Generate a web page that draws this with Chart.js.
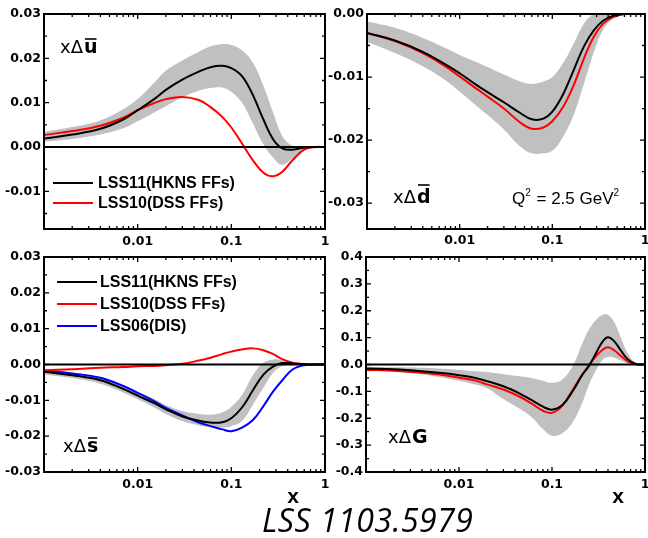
<!DOCTYPE html>
<html>
<head>
<meta charset="utf-8">
<script src="https://cdn.jsdelivr.net/npm/chart.js@4.4.1/dist/chart.umd.min.js"></script>
<style>
  body { margin: 0; background: #fff; width: 648px; height: 538px; position: relative; overflow: hidden; }
  canvas { position: absolute; }
  #caption { position: absolute; left: 262px; top: 503px; font: italic 32px "Open Sans", sans-serif; line-height: 34px; color: #000; white-space: nowrap; letter-spacing: 0.5px; }
</style>
</head>
<body>
<canvas id="chartU" width="330" height="252" style="left:0;top:0"></canvas>
<canvas id="chartD" width="328" height="252" style="left:320px;top:0"></canvas>
<canvas id="chartS" width="330" height="270" style="left:0;top:240px"></canvas>
<canvas id="chartG" width="328" height="270" style="left:320px;top:240px"></canvas>
<div id="caption">LSS 1103.5979</div>
<script>
// x grid shared by the three sea-quark panels
const xGrid = [0.001, 0.002, 0.004, 0.007, 0.01, 0.015, 0.02, 0.03, 0.045, 0.06, 0.08, 0.1, 0.13, 0.17, 0.22, 0.28, 0.35, 0.45, 0.6, 0.8, 1];
const xGridG = [0.001, 0.002, 0.004, 0.007, 0.01, 0.015, 0.02, 0.03, 0.045, 0.06, 0.08, 0.1, 0.13, 0.17, 0.21, 0.25, 0.3, 0.35, 0.4, 0.47, 0.55, 0.65, 0.8, 1];
const xTickValues = [0.01, 0.1, 1];

// x * delta u-bar
const uLss11 = [0.0019, 0.0028, 0.0041, 0.0062, 0.0083, 0.0108, 0.0129, 0.0152, 0.0170, 0.0180, 0.0183, 0.0178, 0.0160, 0.0117, 0.0062, 0.0017, -0.0003, -0.0006, -0.0001, 0, 0];
const uLss10 = [0.0027, 0.0036, 0.0048, 0.0066, 0.0083, 0.0099, 0.0108, 0.0113, 0.0106, 0.0090, 0.0068, 0.0044, 0.0008, -0.0030, -0.0058, -0.0066, -0.0056, -0.0030, -0.0006, 0, 0];
const uBandHi = [0.0034, 0.0045, 0.0060, 0.0085, 0.0108, 0.0145, 0.0172, 0.0195, 0.0215, 0.0227, 0.0232, 0.0230, 0.0218, 0.0190, 0.0138, 0.0077, 0.0025, 0.0003, 0, 0, 0];
const uBandLo = [0.0012, 0.0018, 0.0028, 0.0042, 0.0058, 0.0078, 0.0092, 0.0112, 0.0127, 0.0133, 0.0134, 0.0124, 0.0100, 0.0053, 0.0006, -0.0024, -0.0040, -0.0026, -0.0005, 0, 0];

// x * delta d-bar
const dLss11 = [-0.0030, -0.0042, -0.0060, -0.0080, -0.0094, -0.0112, -0.0124, -0.0140, -0.0157, -0.0167, -0.0166, -0.0155, -0.0128, -0.0089, -0.0051, -0.0026, -0.0011, -0.0003, 0, 0, 0];
const dLss10 = [-0.0030, -0.0043, -0.0062, -0.0083, -0.0099, -0.0118, -0.0131, -0.0150, -0.0172, -0.0182, -0.0180, -0.0170, -0.0148, -0.0113, -0.0070, -0.0036, -0.0016, -0.0005, 0, 0, 0];
const dBandHi = [-0.0012, -0.0022, -0.0038, -0.0054, -0.0065, -0.0076, -0.0084, -0.0096, -0.0107, -0.0111, -0.0107, -0.0100, -0.0078, -0.0047, -0.0015, 0, 0, 0, 0, 0, 0];
const dBandLo = [-0.0044, -0.0062, -0.0083, -0.0105, -0.0123, -0.0145, -0.0160, -0.0183, -0.0210, -0.0221, -0.0221, -0.0217, -0.0195, -0.0160, -0.0110, -0.0061, -0.0026, -0.0008, -0.0001, 0, 0];

// x * delta s-bar
const sLss11 = [-0.0020, -0.0030, -0.0044, -0.0068, -0.0087, -0.0108, -0.0125, -0.0145, -0.0157, -0.0162, -0.0161, -0.0150, -0.0120, -0.0072, -0.0028, -0.0005, 0.0004, 0.0003, 0.0001, 0, 0];
const sLss10 = [-0.0016, -0.0013, -0.0009, -0.0007, -0.0005, -0.0004, -0.0002, 0.0002, 0.0011, 0.0019, 0.0029, 0.0036, 0.0042, 0.0045, 0.0040, 0.0029, 0.0015, 0.0005, 0.0001, 0, 0];
const sLss06 = [-0.0017, -0.0025, -0.0037, -0.0060, -0.0079, -0.0102, -0.0121, -0.0142, -0.0162, -0.0172, -0.0181, -0.0186, -0.0176, -0.0155, -0.0116, -0.0075, -0.0044, -0.0014, -0.0002, 0, 0];
const sBandHi = [-0.0013, -0.0022, -0.0036, -0.0058, -0.0076, -0.0096, -0.0113, -0.0130, -0.0138, -0.0140, -0.0134, -0.0118, -0.0085, -0.0030, 0.0005, 0.0014, 0.0012, 0.0005, 0.0001, 0, 0];
const sBandLo = [-0.0028, -0.0038, -0.0054, -0.0078, -0.0097, -0.0120, -0.0138, -0.0158, -0.0170, -0.0175, -0.0176, -0.0172, -0.0158, -0.0112, -0.0065, -0.0023, -0.0004, 0, 0, 0, 0];

// x * delta G
const gLss11 = [-0.015, -0.018, -0.025, -0.033, -0.040, -0.050, -0.062, -0.081, -0.108, -0.132, -0.157, -0.168, -0.150, -0.095, -0.040, -0.005, 0.045, 0.085, 0.101, 0.085, 0.052, 0.020, 0.002, 0];
const gLss10 = [-0.020, -0.023, -0.031, -0.040, -0.049, -0.060, -0.074, -0.093, -0.120, -0.145, -0.172, -0.180, -0.152, -0.090, -0.040, -0.002, 0.032, 0.055, 0.064, 0.052, 0.032, 0.012, 0.001, 0];
const gBandHi = [-0.008, -0.010, -0.012, -0.016, -0.020, -0.025, -0.028, -0.036, -0.044, -0.050, -0.060, -0.068, -0.055, 0.000, 0.075, 0.130, 0.167, 0.185, 0.185, 0.155, 0.100, 0.043, 0.005, 0];
const gBandLo = [-0.025, -0.028, -0.037, -0.050, -0.060, -0.074, -0.088, -0.128, -0.165, -0.195, -0.240, -0.265, -0.255, -0.210, -0.145, -0.075, -0.019, 0.018, 0.028, 0.025, 0.015, 0.004, 0, 0];

const yTicksU = [0.03, 0.02, 0.01, 0, -0.01];
const yTicksD = [0, -0.01, -0.02, -0.03];
const yTicksS = [0.03, 0.02, 0.01, 0, -0.01, -0.02, -0.03];
const yTicksG = [0.4, 0.3, 0.2, 0.1, 0, -0.1, -0.2, -0.3, -0.4];

const BAND = "#c0c0c0";
const TICK_FONT = { family: "DejaVu Sans", size: 12.5, weight: "bold" };

function pts(xs, ys) {
  return xs.map((x, i) => ({ x, y: ys[i] }));
}

function curve(label, xs, ys, color) {
  return {
    label, data: pts(xs, ys), borderColor: color, borderWidth: 2, pointRadius: 0,
    fill: false, tension: 0.4, order: 0, inLegend: true
  };
}

function band(xs, hi, lo) {
  const common = { borderColor: "rgba(0,0,0,0)", borderWidth: 0, pointRadius: 0, tension: 0.4, order: 5 };
  return [
    { ...common, label: "hi", data: pts(xs, hi), fill: false },
    { ...common, label: "lo", data: pts(xs, lo), fill: "-1", backgroundColor: BAND }
  ];
}

function drawPanelLabel(ctx, lab) {
  ctx.fillStyle = "#000";
  ctx.textAlign = "left";
  ctx.textBaseline = "alphabetic";
  let x = lab.x;
  ctx.font = '18px "DejaVu Sans"';
  ctx.fillText("x", x, lab.y);
  x += ctx.measureText("x").width;
  ctx.fillText("\u0394", x, lab.y);
  x += ctx.measureText("\u0394").width + 1;
  ctx.font = 'bold 19px "DejaVu Sans"';
  ctx.fillText(lab.letter, x, lab.y);
  if (lab.bar) {
    const m = ctx.measureText(lab.letter);
    const top = lab.y - m.actualBoundingBoxAscent - 3;
    ctx.strokeStyle = "#000";
    ctx.lineWidth = 1.6;
    ctx.beginPath();
    ctx.moveTo(x + 1, top);
    ctx.lineTo(x + m.width - 1, top);
    ctx.stroke();
  }
}

function drawNote(ctx, note) {
  ctx.fillStyle = "#000";
  ctx.textAlign = "left";
  ctx.textBaseline = "alphabetic";
  let x = note.x;
  const parts = [["Q", false], ["2", true], [" = 2.5 GeV", false], ["2", true]];
  parts.forEach(([t, sup]) => {
    ctx.font = sup ? '10px "Liberation Sans"' : '17px "Liberation Sans"';
    ctx.fillText(t, x, sup ? note.y - 8 : note.y);
    x += ctx.measureText(t).width + (sup ? 1 : 0);
  });
}

const framePlugin = {
  id: "frame",
  afterDatasetsDraw(chart, args, opts) {
    const { ctx, chartArea: a, scales } = chart;
    const sx = scales.x;
    const sy = scales.y;
    ctx.save();

    // zero line
    const y0 = sy.getPixelForValue(0);
    ctx.strokeStyle = "#000";
    ctx.lineWidth = 2.2;
    ctx.beginPath();
    ctx.moveTo(a.left, y0);
    ctx.lineTo(a.right, y0);
    ctx.stroke();

    // inward ticks, log x
    ctx.lineWidth = 1.3;
    ctx.beginPath();
    [0.001, 0.01, 0.1].forEach((dec) => {
      for (let k = 1; k <= 9; k++) {
        const px = sx.getPixelForValue(dec * k);
        const len = k === 1 ? 5 : 3;
        ctx.moveTo(px, a.bottom); ctx.lineTo(px, a.bottom - len);
        ctx.moveTo(px, a.top); ctx.lineTo(px, a.top + len);
      }
    });
    // inward ticks, linear y (minor at half steps)
    const step = opts.yMinor;
    for (let i = Math.ceil(sy.min / step - 1e-6); i * step <= sy.max + 1e-9; i++) {
      const py = sy.getPixelForValue(i * step);
      const len = i % 2 === 0 ? 5 : 3;
      ctx.moveTo(a.left, py); ctx.lineTo(a.left + len, py);
      ctx.moveTo(a.right, py); ctx.lineTo(a.right - len, py);
    }
    ctx.stroke();

    // frame
    ctx.lineWidth = 2;
    ctx.strokeRect(a.left, a.top, a.right - a.left, a.bottom - a.top);

    // legend inside the plot
    if (opts.legend) {
      const items = chart.data.datasets.filter((ds) => ds.inLegend);
      items.forEach((ds, i) => {
        const ly = opts.legend.y + i * opts.legend.gap;
        ctx.strokeStyle = ds.borderColor;
        ctx.lineWidth = 2;
        ctx.beginPath();
        ctx.moveTo(opts.legend.x, ly);
        ctx.lineTo(opts.legend.x + 40, ly);
        ctx.stroke();
        ctx.fillStyle = "#000";
        ctx.font = 'bold 16px "Liberation Sans"';
        ctx.textAlign = "left";
        ctx.textBaseline = "middle";
        ctx.fillText(ds.label, opts.legend.x + opts.legend.textGap, ly + 1);
      });
    }

    if (opts.label) drawPanelLabel(ctx, opts.label);
    if (opts.note) drawNote(ctx, opts.note);

    if (opts.xTitle) {
      ctx.fillStyle = "#000";
      ctx.font = 'bold 21px "Liberation Sans"';
      ctx.textAlign = "center";
      ctx.textBaseline = "alphabetic";
      ctx.fillText("x", opts.xTitle.x, opts.xTitle.y);
    }
    ctx.restore();
  }
};

function makeChart(id, datasets, cfg) {
  return new Chart(document.getElementById(id), {
    type: "line",
    data: { datasets },
    options: {
      responsive: false,
      animation: false,
      events: [],
      layout: { padding: cfg.padding },
      plugins: { legend: { display: false }, tooltip: { enabled: false }, frame: cfg.frame },
      scales: {
        x: {
          type: "logarithmic",
          min: 0.001,
          max: 1,
          grid: { display: false, drawTicks: false },
          border: { display: false },
          ticks: { font: TICK_FONT, color: "#000", padding: cfg.xPad, maxRotation: 0, autoSkip: false, callback: (v) => String(v) },
          afterBuildTicks: (s) => { s.ticks = xTickValues.map((v) => ({ value: v })); },
          afterFit: (s) => { s.height = cfg.xHeight; s.paddingLeft = 0; s.paddingRight = 0; }
        },
        y: {
          type: "linear",
          min: cfg.yMin,
          max: cfg.yMax,
          grid: { display: false, drawTicks: false },
          border: { display: false },
          ticks: { font: TICK_FONT, color: "#000", padding: 3, callback: (v) => Number(v).toFixed(cfg.digits) },
          afterBuildTicks: (s) => { s.ticks = cfg.yTicks.map((v) => ({ value: v })); },
          afterFit: (s) => { s.width = cfg.yWidth; s.paddingTop = 0; s.paddingBottom = 0; }
        }
      }
    },
    plugins: [framePlugin]
  });
}

makeChart("chartU", [
  curve("LSS11(HKNS FFs)", xGrid, uLss11, "#000000"),
  curve("LSS10(DSS FFs)", xGrid, uLss10, "#ff0000"),
  ...band(xGrid, uBandHi, uBandLo)
], {
  padding: { left: 0, top: 14, right: 5, bottom: 0 },
  yWidth: 44, xHeight: 23, xPad: 5, yMin: -0.0185, yMax: 0.03, yTicks: yTicksU, digits: 2,
  frame: { yMinor: 0.005, legend: { x: 53, y: 183, gap: 20, textGap: 45 }, label: { x: 60, y: 53, letter: "u", bar: true } }
});

makeChart("chartD", [
  curve("LSS11(HKNS FFs)", xGrid, dLss11, "#000000"),
  curve("LSS10(DSS FFs)", xGrid, dLss10, "#ff0000"),
  ...band(xGrid, dBandHi, dBandLo)
], {
  padding: { left: 0, top: 14, right: 3, bottom: 0 },
  yWidth: 47, xHeight: 23, xPad: 4, yMin: -0.0341, yMax: 0, yTicks: yTicksD, digits: 2,
  frame: { yMinor: 0.005, label: { x: 73, y: 203, letter: "d", bar: true }, note: { x: 192, y: 204 } }
});

makeChart("chartS", [
  curve("LSS11(HKNS FFs)", xGrid, sLss11, "#000000"),
  curve("LSS10(DSS FFs)", xGrid, sLss10, "#ff0000"),
  curve("LSS06(DIS)", xGrid, sLss06, "#0000ff"),
  ...band(xGrid, sBandHi, sBandLo)
], {
  padding: { left: 0, top: 17, right: 5, bottom: 0 },
  yWidth: 44, xHeight: 38, xPad: 5, yMin: -0.03, yMax: 0.03, yTicks: yTicksS, digits: 2,
  frame: { yMinor: 0.005, legend: { x: 57, y: 42, gap: 22, textGap: 43 }, label: { x: 63, y: 212, letter: "s", bar: true }, xTitle: { x: 293, y: 263 } }
});

makeChart("chartG", [
  curve("LSS11(HKNS FFs)", xGridG, gLss11, "#000000"),
  curve("LSS10(DSS FFs)", xGridG, gLss10, "#ff0000"),
  ...band(xGridG, gBandHi, gBandLo)
], {
  padding: { left: 0, top: 17, right: 3, bottom: 0 },
  yWidth: 46, xHeight: 38, xPad: 5, yMin: -0.4, yMax: 0.4, yTicks: yTicksG, digits: 1,
  frame: { yMinor: 0.05, label: { x: 68, y: 203, letter: "G", bar: false }, xTitle: { x: 298, y: 263 } }
});
</script>
</body>
</html>
